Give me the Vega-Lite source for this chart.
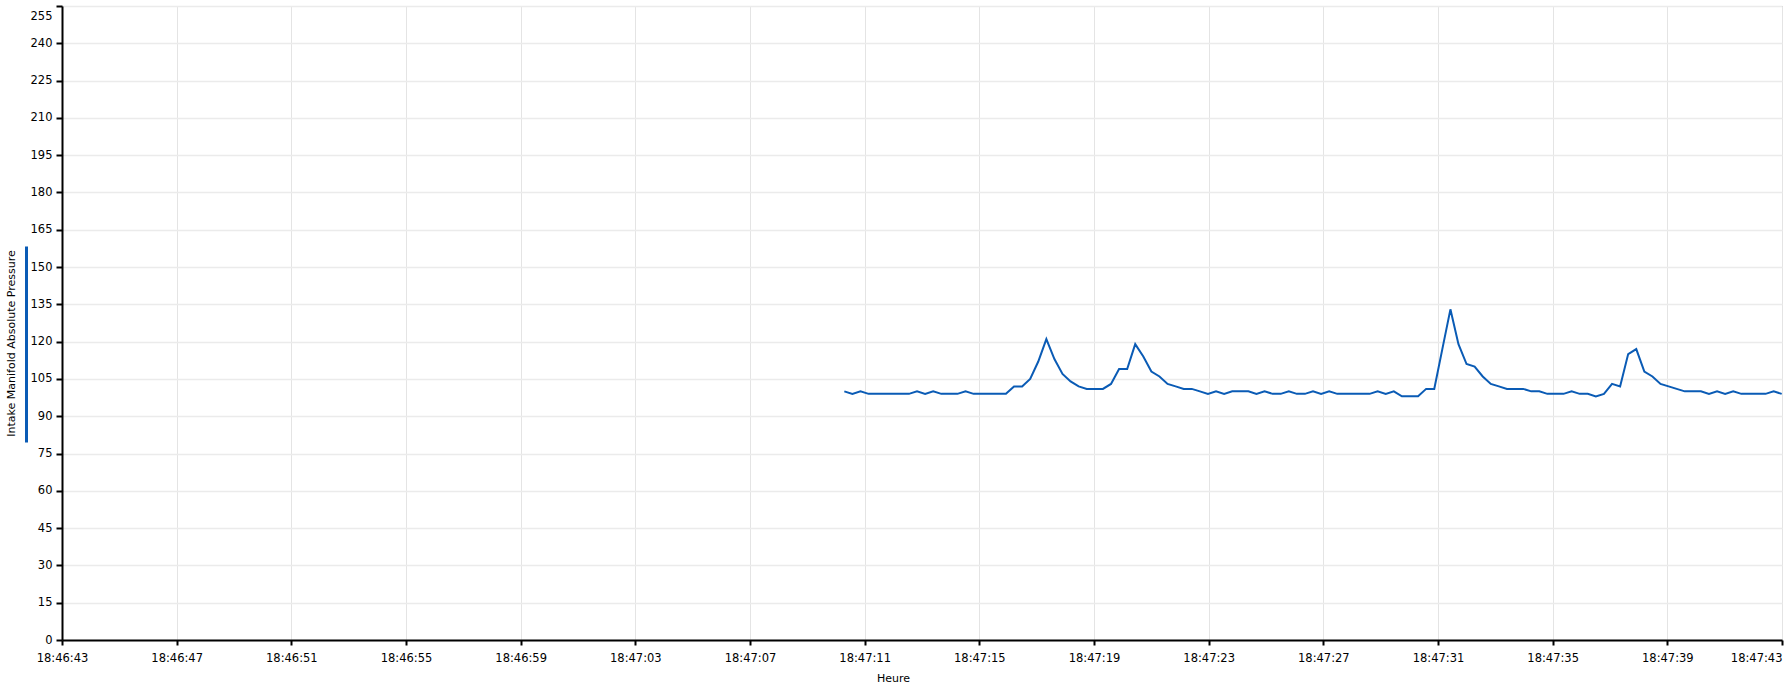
{
"$schema": "https://vega.github.io/schema/vega-lite/v6.json",
"width": 1720, "height": 634,
"autosize": {"type": "none"},
"padding": {"left": 62, "top": 6, "right": 7, "bottom": 48},
"background": "white",
"config": {"view": {"stroke": "#a0a0a0", "strokeWidth": 1}, "font": "DejaVu Sans"},
"data": {"values": [
{"t":"2024-01-01T18:47:10.290","v":100},{"t":"2024-01-01T18:47:10.572","v":99},{"t":"2024-01-01T18:47:10.854","v":100},{"t":"2024-01-01T18:47:11.136","v":99},{"t":"2024-01-01T18:47:11.418","v":99},{"t":"2024-01-01T18:47:11.700","v":99},{"t":"2024-01-01T18:47:11.981","v":99},{"t":"2024-01-01T18:47:12.263","v":99},{"t":"2024-01-01T18:47:12.545","v":99},{"t":"2024-01-01T18:47:12.827","v":100},
{"t":"2024-01-01T18:47:13.109","v":99},{"t":"2024-01-01T18:47:13.391","v":100},{"t":"2024-01-01T18:47:13.673","v":99},{"t":"2024-01-01T18:47:13.955","v":99},{"t":"2024-01-01T18:47:14.237","v":99},{"t":"2024-01-01T18:47:14.519","v":100},{"t":"2024-01-01T18:47:14.800","v":99},{"t":"2024-01-01T18:47:15.082","v":99},{"t":"2024-01-01T18:47:15.364","v":99},{"t":"2024-01-01T18:47:15.646","v":99},
{"t":"2024-01-01T18:47:15.928","v":99},{"t":"2024-01-01T18:47:16.210","v":102},{"t":"2024-01-01T18:47:16.492","v":102},{"t":"2024-01-01T18:47:16.774","v":105},{"t":"2024-01-01T18:47:17.056","v":112},{"t":"2024-01-01T18:47:17.338","v":121},{"t":"2024-01-01T18:47:17.619","v":113},{"t":"2024-01-01T18:47:17.901","v":107},{"t":"2024-01-01T18:47:18.183","v":104},{"t":"2024-01-01T18:47:18.465","v":102},
{"t":"2024-01-01T18:47:18.747","v":101},{"t":"2024-01-01T18:47:19.029","v":101},{"t":"2024-01-01T18:47:19.311","v":101},{"t":"2024-01-01T18:47:19.593","v":103},{"t":"2024-01-01T18:47:19.875","v":109},{"t":"2024-01-01T18:47:20.157","v":109},{"t":"2024-01-01T18:47:20.438","v":119},{"t":"2024-01-01T18:47:20.720","v":114},{"t":"2024-01-01T18:47:21.002","v":108},{"t":"2024-01-01T18:47:21.284","v":106},
{"t":"2024-01-01T18:47:21.566","v":103},{"t":"2024-01-01T18:47:21.848","v":102},{"t":"2024-01-01T18:47:22.130","v":101},{"t":"2024-01-01T18:47:22.412","v":101},{"t":"2024-01-01T18:47:22.694","v":100},{"t":"2024-01-01T18:47:22.976","v":99},{"t":"2024-01-01T18:47:23.257","v":100},{"t":"2024-01-01T18:47:23.539","v":99},{"t":"2024-01-01T18:47:23.821","v":100},{"t":"2024-01-01T18:47:24.103","v":100},
{"t":"2024-01-01T18:47:24.385","v":100},{"t":"2024-01-01T18:47:24.667","v":99},{"t":"2024-01-01T18:47:24.949","v":100},{"t":"2024-01-01T18:47:25.231","v":99},{"t":"2024-01-01T18:47:25.513","v":99},{"t":"2024-01-01T18:47:25.795","v":100},{"t":"2024-01-01T18:47:26.076","v":99},{"t":"2024-01-01T18:47:26.358","v":99},{"t":"2024-01-01T18:47:26.640","v":100},{"t":"2024-01-01T18:47:26.922","v":99},
{"t":"2024-01-01T18:47:27.204","v":100},{"t":"2024-01-01T18:47:27.486","v":99},{"t":"2024-01-01T18:47:27.768","v":99},{"t":"2024-01-01T18:47:28.050","v":99},{"t":"2024-01-01T18:47:28.332","v":99},{"t":"2024-01-01T18:47:28.614","v":99},{"t":"2024-01-01T18:47:28.895","v":100},{"t":"2024-01-01T18:47:29.177","v":99},{"t":"2024-01-01T18:47:29.459","v":100},{"t":"2024-01-01T18:47:29.741","v":98},
{"t":"2024-01-01T18:47:30.023","v":98},{"t":"2024-01-01T18:47:30.305","v":98},{"t":"2024-01-01T18:47:30.587","v":101},{"t":"2024-01-01T18:47:30.869","v":101},{"t":"2024-01-01T18:47:31.151","v":117},{"t":"2024-01-01T18:47:31.433","v":133},{"t":"2024-01-01T18:47:31.714","v":119},{"t":"2024-01-01T18:47:31.996","v":111},{"t":"2024-01-01T18:47:32.278","v":110},{"t":"2024-01-01T18:47:32.560","v":106},
{"t":"2024-01-01T18:47:32.842","v":103},{"t":"2024-01-01T18:47:33.124","v":102},{"t":"2024-01-01T18:47:33.406","v":101},{"t":"2024-01-01T18:47:33.688","v":101},{"t":"2024-01-01T18:47:33.970","v":101},{"t":"2024-01-01T18:47:34.252","v":100},{"t":"2024-01-01T18:47:34.533","v":100},{"t":"2024-01-01T18:47:34.815","v":99},{"t":"2024-01-01T18:47:35.097","v":99},{"t":"2024-01-01T18:47:35.379","v":99},
{"t":"2024-01-01T18:47:35.661","v":100},{"t":"2024-01-01T18:47:35.943","v":99},{"t":"2024-01-01T18:47:36.225","v":99},{"t":"2024-01-01T18:47:36.507","v":98},{"t":"2024-01-01T18:47:36.789","v":99},{"t":"2024-01-01T18:47:37.071","v":103},{"t":"2024-01-01T18:47:37.352","v":102},{"t":"2024-01-01T18:47:37.634","v":115},{"t":"2024-01-01T18:47:37.916","v":117},{"t":"2024-01-01T18:47:38.198","v":108},
{"t":"2024-01-01T18:47:38.480","v":106},{"t":"2024-01-01T18:47:38.762","v":103},{"t":"2024-01-01T18:47:39.044","v":102},{"t":"2024-01-01T18:47:39.326","v":101},{"t":"2024-01-01T18:47:39.608","v":100},{"t":"2024-01-01T18:47:39.890","v":100},{"t":"2024-01-01T18:47:40.171","v":100},{"t":"2024-01-01T18:47:40.453","v":99},{"t":"2024-01-01T18:47:40.735","v":100},{"t":"2024-01-01T18:47:41.017","v":99},
{"t":"2024-01-01T18:47:41.299","v":100},{"t":"2024-01-01T18:47:41.581","v":99},{"t":"2024-01-01T18:47:41.863","v":99},{"t":"2024-01-01T18:47:42.145","v":99},{"t":"2024-01-01T18:47:42.427","v":99},{"t":"2024-01-01T18:47:42.709","v":100},{"t":"2024-01-01T18:47:42.990","v":99}
]},
"mark": {"type": "line", "strokeWidth": 2, "clip": true},
"encoding": {
  "x": {"field": "t", "type": "temporal",
    "scale": {"domain": [{"year":2024,"month":1,"date":1,"hours":18,"minutes":46,"seconds":43},{"year":2024,"month":1,"date":1,"hours":18,"minutes":47,"seconds":43}], "nice": false},
    "axis": {"title": "Heure", "format": "%H:%M:%S",
      "values": [
        {"year":2024,"month":1,"date":1,"hours":18,"minutes":46,"seconds":43},
        {"year":2024,"month":1,"date":1,"hours":18,"minutes":46,"seconds":47},
        {"year":2024,"month":1,"date":1,"hours":18,"minutes":46,"seconds":51},
        {"year":2024,"month":1,"date":1,"hours":18,"minutes":46,"seconds":55},
        {"year":2024,"month":1,"date":1,"hours":18,"minutes":46,"seconds":59},
        {"year":2024,"month":1,"date":1,"hours":18,"minutes":47,"seconds":3},
        {"year":2024,"month":1,"date":1,"hours":18,"minutes":47,"seconds":7},
        {"year":2024,"month":1,"date":1,"hours":18,"minutes":47,"seconds":11},
        {"year":2024,"month":1,"date":1,"hours":18,"minutes":47,"seconds":15},
        {"year":2024,"month":1,"date":1,"hours":18,"minutes":47,"seconds":19},
        {"year":2024,"month":1,"date":1,"hours":18,"minutes":47,"seconds":23},
        {"year":2024,"month":1,"date":1,"hours":18,"minutes":47,"seconds":27},
        {"year":2024,"month":1,"date":1,"hours":18,"minutes":47,"seconds":31},
        {"year":2024,"month":1,"date":1,"hours":18,"minutes":47,"seconds":35},
        {"year":2024,"month":1,"date":1,"hours":18,"minutes":47,"seconds":39},
        {"year":2024,"month":1,"date":1,"hours":18,"minutes":47,"seconds":43}
      ],
      "grid": true, "gridColor": "#e4e4e4", "gridWidth": 1,
      "domainColor": "#000000", "domainWidth": 2,
      "tickColor": "#000000", "tickWidth": 2, "tickSize": 5,
      "labelFontSize": 11.5, "labelColor": "#000000", "labelPadding": 7,
      "labelOverlap": false, "labelBound": false,
      "labelAlign": {"condition": {"test": "datum.value > time(datetime(2024,0,1,18,47,42))", "value": "right"}, "value": "center"},
      "titleFontSize": 11, "titleFontWeight": "normal", "titleColor": "#000000",
      "titleX": 831, "titleY": 38, "titleAlign": "center", "titleBaseline": "middle"
    }
  },
  "y": {"field": "v", "type": "quantitative",
    "scale": {"domain": [0, 255], "nice": false, "zero": true},
    "axis": {"title": "Intake Manifold Absolute Pressure",
      "values": [0,15,30,45,60,75,90,105,120,135,150,165,180,195,210,225,240,255],
      "grid": true, "gridColor": "#ebebeb", "gridWidth": 1.5,
      "domainColor": "#000000", "domainWidth": 2,
      "tickColor": "#000000", "tickWidth": 2, "tickSize": 6,
      "labelFontSize": 11.5, "labelColor": "#000000", "labelPadding": 4,
      "labelOverlap": false, "labelBound": false,
      "labelOffset": {"condition": {"test": "datum.value >= 255", "value": 10}, "value": 0},
      "titleFontSize": 11, "titleFontWeight": "normal", "titleColor": "#000000",
      "titleX": -51, "titleY": 337, "titleAlign": "center", "titleBaseline": "middle", "titleAngle": -90
    }
  },
  "color": {"datum": "Intake Manifold Absolute Pressure", "type": "nominal",
    "scale": {"range": ["#0a5bb5"]},
    "legend": {"orient": "none", "legendX": -135, "legendY": 239, "title": null,
      "symbolType": "M0,-1L0,1", "symbolSize": 38416, "symbolStrokeWidth": 3,
      "labelFontSize": 0, "labelExpr": "''", "padding": 0, "symbolOffset": 0, "labelOffset": 0}
  }
}
}
